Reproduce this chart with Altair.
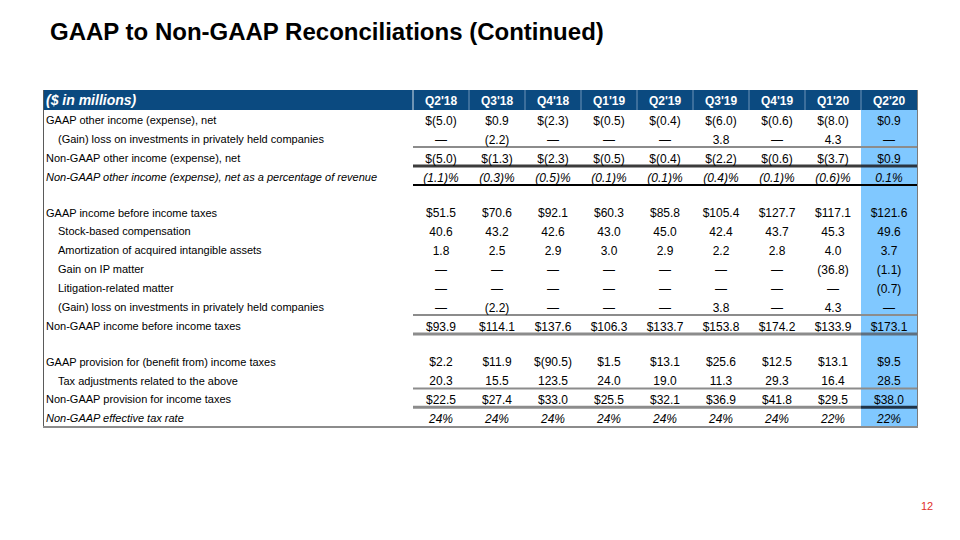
import altair as alt
import pandas as pd

# ---------------- data ----------------
title_text = "GAAP to Non-GAAP Reconciliations (Continued)"
page_number = "12"
header_label = "($ in millions)"
quarters = ["Q2'18", "Q3'18", "Q4'18", "Q1'19", "Q2'19", "Q3'19", "Q4'19", "Q1'20", "Q2'20"]

row_labels = [
    "GAAP other income (expense), net",
    "(Gain) loss on investments in privately held companies",
    "Non-GAAP other income (expense), net",
    "Non-GAAP other income (expense), net as a percentage of revenue",
    "GAAP income before income taxes",
    "Stock-based compensation",
    "Amortization of acquired intangible assets",
    "Gain on IP matter",
    "Litigation-related matter",
    "(Gain) loss on investments in privately held companies",
    "Non-GAAP income before income taxes",
    "GAAP provision for (benefit from) income taxes",
    "Tax adjustments related to the above",
    "Non-GAAP provision for income taxes",
    "Non-GAAP effective tax rate",
]
row_indent = [0, 1, 0, 0, 0, 1, 1, 1, 1, 1, 0, 0, 1, 0, 0]
row_format = ["dollar", "plain", "dollar", "pct1", "dollar", "plain", "plain", "plain",
              "plain", "plain", "dollar", "dollar", "plain", "dollar", "pct0"]
row_italic = [0, 0, 0, 1, 0, 0, 0, 0, 0, 0, 0, 0, 0, 0, 1]
row_group = [0, 0, 0, 0, 1, 1, 1, 1, 1, 1, 1, 2, 2, 2, 2]

gaap_other_income = [-5.0, 0.9, -2.3, -0.5, -0.4, -6.0, -0.6, -8.0, 0.9]
gain_loss_private = [None, -2.2, None, None, None, 3.8, None, 4.3, None]
nongaap_other_income = [-5.0, -1.3, -2.3, -0.5, -0.4, -2.2, -0.6, -3.7, 0.9]
nongaap_other_pct = [-1.1, -0.3, -0.5, -0.1, -0.1, -0.4, -0.1, -0.6, 0.1]
gaap_income_before_tax = [51.5, 70.6, 92.1, 60.3, 85.8, 105.4, 127.7, 117.1, 121.6]
stock_based_comp = [40.6, 43.2, 42.6, 43.0, 45.0, 42.4, 43.7, 45.3, 49.6]
amortization = [1.8, 2.5, 2.9, 3.0, 2.9, 2.2, 2.8, 4.0, 3.7]
gain_ip_matter = [None, None, None, None, None, None, None, -36.8, -1.1]
litigation = [None, None, None, None, None, None, None, None, -0.7]
gain_loss_private_2 = [None, -2.2, None, None, None, 3.8, None, 4.3, None]
nongaap_income_before_tax = [93.9, 114.1, 137.6, 106.3, 133.7, 153.8, 174.2, 133.9, 173.1]
gaap_tax_provision = [2.2, 11.9, -90.5, 1.5, 13.1, 25.6, 12.5, 13.1, 9.5]
tax_adjustments = [20.3, 15.5, 123.5, 24.0, 19.0, 11.3, 29.3, 16.4, 28.5]
nongaap_tax_provision = [22.5, 27.4, 33.0, 25.5, 32.1, 36.9, 41.8, 29.5, 38.0]
nongaap_tax_rate = [24, 24, 24, 24, 24, 24, 24, 22, 22]

row_values = [gaap_other_income, gain_loss_private, nongaap_other_income, nongaap_other_pct,
              gaap_income_before_tax, stock_based_comp, amortization, gain_ip_matter,
              litigation, gain_loss_private_2, nongaap_income_before_tax, gaap_tax_provision,
              tax_adjustments, nongaap_tax_provision, nongaap_tax_rate]

# rows below which a separator is drawn, with style
rule_after_rows = [1, 2, 3, 9, 10, 12, 13]
rule_widths = [2, 3, 2, 2, 3, 2, 3]
rule_colors = ["#8c8c8c", "#3c3c3c", "#000000", "#8c8c8c", "#8c8c8c", "#8c8c8c", "#8c8c8c"]
rule_colors_hl = ["#8c8c8c", "#2a3440", "#000000", "#8c8c8c", "#5d6f80", "#8c8c8c", "#1f3348"]


def fmt(v, kind):
    if v is None:
        return "\u2014"
    if kind == "pct0":
        return f"{v:.0f}%"
    if kind == "pct1":
        return f"({-v:.1f})%" if v < 0 else f"{v:.1f}%"
    core = f"({-v:.1f})" if v < 0 else f"{v:.1f}"
    return "$" + core if kind == "dollar" else core


row_pos = [i + 0.875 * g for i, g in enumerate(row_group)]

cells = []
for r, vals in enumerate(row_values):
    for c, v in enumerate(vals):
        cells.append({"row": r, "col": c, "pos": row_pos[r], "italic": row_italic[r],
                      "txt": fmt(v, row_format[r])})
cells_df = pd.DataFrame(cells)

labels_df = pd.DataFrame({"label": row_labels, "indent": row_indent,
                          "italic": row_italic, "pos": row_pos})

head_df = pd.DataFrame({"q": quarters, "col": list(range(len(quarters)))})

n = len(quarters)
rules = []
for r, w, c1, c2 in zip(rule_after_rows, rule_widths, rule_colors, rule_colors_hl):
    y = row_pos[r] + 0.39
    rules.append({"ly": y, "x0": -0.5, "x1": n - 1.5, "w": w, "color": c1})
    rules.append({"ly": y, "x0": n - 1.5, "x1": n - 0.5, "w": w, "color": c2})
rules_df = pd.DataFrame(rules)

seps_df = pd.DataFrame({"b": [i - 0.5 for i in range(n)],
                        "color": ["#d5e0ea"] + ["#6f93b8"] * (n - 1)})
hl_df = pd.DataFrame({"c0": [n - 1.5], "c1": [n - 0.5]})
one = pd.DataFrame({"k": [0]})

# ---------------- scales ----------------
FONT = "Liberation Sans"
xs = alt.Scale(domain=[0, 8], range=[433, 881], nice=False, zero=False)
ys = alt.Scale(domain=[0, 15.75], range=[112.8, 410.9], nice=False, zero=False)

X = lambda f: alt.X(f, type="quantitative", scale=xs, axis=None)
X2 = lambda f: alt.X2(f)
Y = lambda f: alt.Y(f, type="quantitative", scale=ys, axis=None)

# highlight column
hl = alt.Chart(hl_df).mark_rect(color="#80c8ff").encode(
    x=X("c0"), x2=X2("c1"), y=alt.value(102), y2=alt.value(419))

# header band
header = alt.Chart(one).mark_rect(color="#0b4a80").encode(
    x=alt.value(35), x2=alt.value(909), y=alt.value(82), y2=alt.value(102))

seps = alt.Chart(seps_df).mark_rule(strokeWidth=1).encode(
    x=X("b"), y=alt.value(82), y2=alt.value(102),
    color=alt.Color("color:N", scale=None))

rules_layer = alt.Chart(rules_df).mark_rule().encode(
    x=X("x0"), x2=X2("x1"), y=Y("ly"),
    color=alt.Color("color:N", scale=None),
    strokeWidth=alt.StrokeWidth("w:Q", scale=None))

frame_left = alt.Chart(one).mark_rule(color="#5a5a5a", strokeWidth=1).encode(
    x=alt.value(35.5), y=alt.value(82), y2=alt.value(420))
frame_right = alt.Chart(one).mark_rule(color="#7a7a7a", strokeWidth=1).encode(
    x=alt.value(909.5), y=alt.value(82), y2=alt.value(420))
frame_bottom = alt.Chart(one).mark_rule(color="#8c8c8c", strokeWidth=2).encode(
    x=alt.value(35), x2=alt.value(910), y=alt.value(419))

head_label = alt.Chart(one).mark_text(
    text=header_label, font=FONT, fontSize=14, fontWeight="bold", fontStyle="italic",
    color="white", align="left", baseline="middle").encode(x=alt.value(38), y=alt.value(92.5))

head_text = alt.Chart(head_df).mark_text(
    font=FONT, fontSize=12, fontWeight="bold", color="white", align="center",
    baseline="middle").encode(x=X("col"), y=alt.value(92.5), text="q:N")

LAB = 11
lab_base = alt.Chart(labels_df)
lab_plain = lab_base.transform_filter("datum.indent == 0 && datum.italic == 0").mark_text(
    font=FONT, fontSize=LAB, color="#000", align="left", baseline="middle", dy=0.5).encode(
    x=alt.value(38), y=Y("pos"), text="label:N")
lab_indent = lab_base.transform_filter("datum.indent == 1").mark_text(
    font=FONT, fontSize=LAB, color="#000", align="left", baseline="middle", dy=0.5).encode(
    x=alt.value(50), y=Y("pos"), text="label:N")
lab_italic = lab_base.transform_filter("datum.italic == 1").mark_text(
    font=FONT, fontSize=LAB, fontStyle="italic", color="#000", align="left",
    baseline="middle", dy=0.5).encode(x=alt.value(38), y=Y("pos"), text="label:N")

cell_base = alt.Chart(cells_df)
cell_plain = cell_base.transform_filter("datum.italic == 0").mark_text(
    font=FONT, fontSize=12, color="#000", align="center", baseline="middle").encode(
    x=X("col"), y=Y("pos"), text="txt:N")
cell_italic = cell_base.transform_filter("datum.italic == 1").mark_text(
    font=FONT, fontSize=12, fontStyle="italic", color="#000", align="center",
    baseline="middle").encode(x=X("col"), y=Y("pos"), text="txt:N")

title = alt.Chart(one).mark_text(
    text=title_text, font=FONT, fontSize=24, fontWeight="bold", color="#000",
    align="left", baseline="alphabetic").encode(x=alt.value(42), y=alt.value(32))

pnum = alt.Chart(one).mark_text(
    text=page_number, font=FONT, fontSize=11, color="#e0302a", align="center",
    baseline="middle").encode(x=alt.value(919), y=alt.value(499))

chart = alt.layer(
    hl, header, seps, rules_layer, frame_left, frame_right, frame_bottom,
    head_label, head_text, lab_plain, lab_indent, lab_italic, cell_plain, cell_italic,
    title, pnum
).properties(
    width=944, height=524, padding=0, background="white",
    autosize=alt.AutoSizeParams(type="none")
).configure_view(stroke=None)

chart.save("out.html", embed_options={"renderer": "svg", "actions": False})
